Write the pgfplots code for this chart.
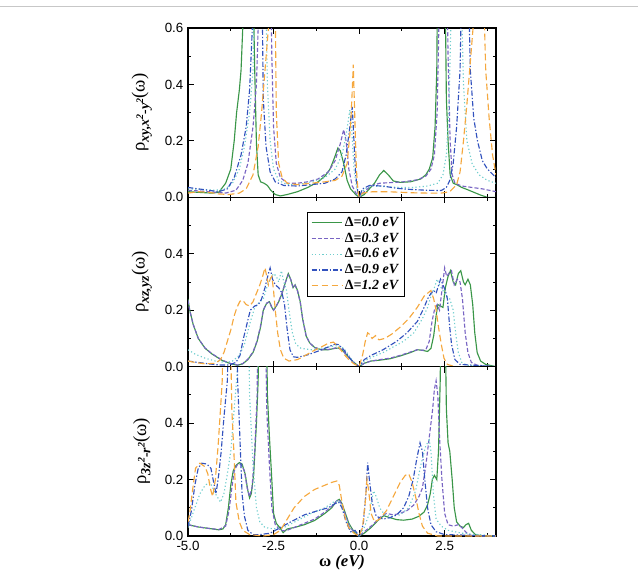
\documentclass[border=0pt]{standalone}
\usepackage{fontspec}
\setmainfont{Liberation Sans}
\newfontfamily\tms{Liberation Serif}
\usepackage{pgfplots}
\pgfplotsset{compat=1.18}

\definecolor{cD0}{RGB}{58,150,72}
\definecolor{cD3}{RGB}{120,100,195}
\definecolor{cD6}{RGB}{110,205,205}
\definecolor{cD9}{RGB}{50,82,190}
\definecolor{cD12}{RGB}{245,168,62}

\pgfplotsset{
  sD0/.style={cD0, solid, line width=0.85pt},
  sD3/.style={cD3, dash pattern=on 3pt off 1.6pt, line width=0.85pt},
  sD6/.style={cD6, dash pattern=on 0.9pt off 1.8pt, line width=0.85pt},
  sD9/.style={cD9, dash pattern=on 4pt off 1.5pt on 1pt off 1.5pt, line width=0.85pt},
  sD12/.style={cD12, dash pattern=on 5pt off 2.5pt, line width=0.85pt},
  panel/.style={
    scale only axis, width=231pt, height=127pt,
    xmin=-5, xmax=4, ymin=0, ymax=0.6,
    xtick={-5,-2.5,0,2.5}, minor xtick={-3.75,-1.25,1.25,3.75},
    minor ytick={0.1,0.3,0.5},
    tick align=inside, xtick pos=both, ytick pos=both,
    major tick length=4.5pt, minor tick length=2.5pt,
    every tick/.style={black, line width=0.75pt},
    axis line style={black, line width=0.9pt},
    /pgf/number format/assume math mode=true,
    xticklabel style={/pgf/number format/.cd, fixed, fixed zerofill, precision=1},
    yticklabel style={/pgf/number format/.cd, fixed, fixed zerofill, precision=1},
    ticklabel style={font=\fontsize{10}{12}\selectfont},
    ylabel style={at={(axis description cs:-0.15,0.5)}, anchor=center},
    legend image code/.code={\draw[#1] (0pt,0pt) -- (23pt,0pt);},
  },
}

\newcommand{\rholabel}[1]{{\tms\fontsize{14}{16}\selectfont ρ\raisebox{-0.5ex}{\fontsize{10.5}{12}\selectfont\bfseries\itshape #1}(ω)}}
\newcommand{\sq}{\raisebox{0.9ex}{\fontsize{7.5}{8}\selectfont\bfseries 2}}

\begin{document}
\begin{tikzpicture}
\useasboundingbox (0,0) rectangle (478.5pt,433.5pt);
\draw[black!22, line width=0.75pt] (0,428.25pt) -- (478.5pt,428.25pt);

% ---------- top panel: xy, x^2-y^2 ----------
\begin{axis}[panel, at={(141pt,285.5pt)}, anchor=south west,
  ytick={0,0.2,0.4,0.6}, xticklabels={},
  ylabel={\rholabel{xy,x\sq-y\sq}}]
\addplot[sD0] coordinates {(-5,0.02) (-4.6,0.017) (-4.3,0.015) (-4.1,0.018) (-3.9,0.05) (-3.75,0.1) (-3.65,0.2) (-3.58,0.3) (-3.5,0.38) (-3.45,0.45) (-3.4,0.6) (-3.35,0.9) (-3.12,0.9) (-3.05,0.45) (-3.0,0.19) (-2.95,0.08) (-2.88,0.055) (-2.78,0.05) (-2.68,0.042) (-2.58,0.025) (-2.45,0.01) (-2.3,0.005) (-2.1,0.01) (-1.8,0.02) (-1.5,0.035) (-1.2,0.055) (-1.0,0.075) (-0.85,0.1) (-0.72,0.14) (-0.62,0.175) (-0.55,0.165) (-0.45,0.12) (-0.35,0.06) (-0.25,0.03) (-0.1,0.01) (0,0.0) (0.15,0.01) (0.3,0.03) (0.45,0.05) (0.6,0.08) (0.72,0.095) (0.85,0.08) (1.0,0.058) (1.2,0.053) (1.5,0.055) (1.8,0.065) (1.95,0.08) (2.05,0.1) (2.15,0.14) (2.22,0.25) (2.27,0.45) (2.3,0.9) (2.5,0.9) (2.55,0.35) (2.6,0.2) (2.66,0.08) (2.75,0.05) (2.85,0.045) (3.0,0.035) (3.15,0.028) (3.35,0.018) (3.55,0.008) (3.75,0.0) (4,0.0)};
\addplot[sD3] coordinates {(-5,0.025) (-4.6,0.022) (-4.2,0.018) (-3.9,0.015) (-3.6,0.025) (-3.4,0.06) (-3.25,0.12) (-3.1,0.25) (-3.0,0.4) (-2.95,0.6) (-2.92,0.9) (-2.6,0.9) (-2.55,0.5) (-2.5,0.25) (-2.42,0.12) (-2.3,0.07) (-2.1,0.05) (-1.8,0.05) (-1.5,0.055) (-1.2,0.065) (-0.9,0.09) (-0.7,0.13) (-0.55,0.19) (-0.45,0.24) (-0.38,0.2) (-0.3,0.1) (-0.2,0.04) (-0.05,0.005) (0,0.0) (0.15,0.02) (0.35,0.04) (0.6,0.05) (0.9,0.052) (1.3,0.055) (1.7,0.062) (1.95,0.075) (2.1,0.1) (2.2,0.15) (2.28,0.3) (2.33,0.6) (2.36,0.9) (2.55,0.9) (2.6,0.5) (2.66,0.2) (2.72,0.08) (2.8,0.05) (3.0,0.04) (3.3,0.035) (3.6,0.03) (4.0,0.02)};
\addplot[sD6] coordinates {(-5,0.03) (-4.6,0.028) (-4.2,0.025) (-3.9,0.03) (-3.7,0.05) (-3.5,0.1) (-3.35,0.18) (-3.2,0.3) (-3.1,0.45) (-3.03,0.9) (-2.75,0.9) (-2.68,0.4) (-2.6,0.2) (-2.5,0.1) (-2.35,0.06) (-2.1,0.045) (-1.8,0.045) (-1.4,0.055) (-1.0,0.07) (-0.7,0.1) (-0.5,0.15) (-0.38,0.22) (-0.27,0.31) (-0.22,0.25) (-0.15,0.1) (-0.07,0.03) (0,0.0) (0.15,0.03) (0.4,0.04) (0.8,0.038) (1.2,0.035) (1.6,0.035) (2.0,0.04) (2.3,0.05) (2.45,0.08) (2.55,0.15) (2.62,0.3) (2.68,0.6) (2.7,0.9) (2.95,0.9) (3.05,0.4) (3.15,0.2) (3.3,0.12) (3.5,0.08) (3.75,0.06) (4.0,0.05)};
\addplot[sD9] coordinates {(-5,0.035) (-4.7,0.03) (-4.4,0.025) (-4.1,0.02) (-3.85,0.03) (-3.65,0.07) (-3.45,0.15) (-3.3,0.25) (-3.2,0.38) (-3.12,0.6) (-3.1,0.9) (-2.85,0.9) (-2.8,0.35) (-2.72,0.18) (-2.6,0.09) (-2.45,0.055) (-2.2,0.042) (-1.8,0.04) (-1.4,0.045) (-1.0,0.05) (-0.7,0.065) (-0.5,0.09) (-0.38,0.15) (-0.28,0.24) (-0.2,0.32) (-0.15,0.2) (-0.1,0.08) (-0.04,0.02) (0,0.0) (0.1,0.03) (0.3,0.042) (0.7,0.04) (1.1,0.032) (1.5,0.028) (2.0,0.025) (2.4,0.024) (2.55,0.035) (2.65,0.06) (2.75,0.12) (2.85,0.25) (2.95,0.45) (3.02,0.9) (3.17,0.9) (3.25,0.45) (3.35,0.28) (3.46,0.2) (3.6,0.13) (3.75,0.1) (4.0,0.07)};
\addplot[sD12] coordinates {(-5,0.015) (-4.7,0.02) (-4.4,0.018) (-4.1,0.012) (-3.8,0.01) (-3.5,0.015) (-3.3,0.03) (-3.1,0.08) (-2.95,0.18) (-2.85,0.3) (-2.75,0.45) (-2.65,0.6) (-2.6,0.9) (-2.47,0.9) (-2.42,0.3) (-2.35,0.12) (-2.25,0.07) (-2.1,0.05) (-1.8,0.045) (-1.4,0.05) (-1.0,0.055) (-0.7,0.06) (-0.5,0.075) (-0.35,0.12) (-0.25,0.25) (-0.2,0.38) (-0.17,0.47) (-0.13,0.3) (-0.08,0.1) (-0.03,0.02) (0,0.0) (0.1,0.015) (0.4,0.02) (0.8,0.02) (1.2,0.018) (1.6,0.016) (2.0,0.015) (2.4,0.015) (2.65,0.02) (2.85,0.045) (2.95,0.09) (3.05,0.2) (3.15,0.33) (3.25,0.48) (3.33,0.6) (3.36,0.9) (3.6,0.9) (3.7,0.45) (3.8,0.28) (3.9,0.15) (4.0,0.08)};
\end{axis}

% ---------- middle panel: xz, yz ----------
\begin{axis}[panel, at={(141pt,158.5pt)}, anchor=south west,
  ytick={0,0.2,0.4}, xticklabels={},
  ylabel={\rholabel{xz,yz}},
  legend cell align=left,
  legend style={at={(rel axis cs:0.385,0.915)}, anchor=north west,
    draw=black, line width=0.75pt, fill=white, inner xsep=3pt, inner ysep=2pt,
    row sep=0pt,
    nodes={inner sep=1.5pt, text height=7.2pt, text depth=1.6pt},
    font=\tms\fontsize{10.5}{12}\selectfont\bfseries\itshape}]
\addplot[sD0] coordinates {(-5,0.24) (-4.95,0.2) (-4.85,0.15) (-4.7,0.1) (-4.5,0.065) (-4.3,0.045) (-4.0,0.022) (-3.75,0.01) (-3.55,0.005) (-3.4,0.01) (-3.25,0.025) (-3.1,0.05) (-2.98,0.09) (-2.88,0.14) (-2.8,0.2) (-2.7,0.225) (-2.62,0.23) (-2.55,0.21) (-2.5,0.2) (-2.42,0.215) (-2.35,0.23) (-2.25,0.26) (-2.15,0.3) (-2.07,0.33) (-2.0,0.31) (-1.93,0.28) (-1.87,0.29) (-1.8,0.27) (-1.72,0.23) (-1.65,0.17) (-1.55,0.11) (-1.45,0.085) (-1.3,0.068) (-1.1,0.06) (-0.9,0.06) (-0.7,0.065) (-0.6,0.066) (-0.5,0.06) (-0.35,0.04) (-0.2,0.02) (0,0.0) (0.15,0.012) (0.35,0.02) (0.6,0.023) (0.9,0.028) (1.2,0.038) (1.5,0.05) (1.7,0.06) (1.85,0.058) (2.0,0.054) (2.1,0.065) (2.18,0.11) (2.25,0.18) (2.3,0.22) (2.38,0.215) (2.45,0.21) (2.52,0.28) (2.6,0.32) (2.67,0.34) (2.75,0.3) (2.82,0.29) (2.9,0.33) (2.97,0.34) (3.05,0.3) (3.1,0.29) (3.18,0.31) (3.25,0.29) (3.32,0.22) (3.38,0.12) (3.45,0.05) (3.55,0.02) (3.7,0.008) (4.0,0.0)};
\addlegendentry{\textup{Δ}=0.0 eV}
\addplot[sD3] coordinates {(-5,0.235) (-4.95,0.2) (-4.85,0.15) (-4.7,0.1) (-4.5,0.066) (-4.3,0.046) (-4.0,0.023) (-3.75,0.011) (-3.55,0.006) (-3.4,0.011) (-3.25,0.027) (-3.1,0.052) (-2.98,0.092) (-2.88,0.145) (-2.8,0.2) (-2.7,0.225) (-2.62,0.23) (-2.55,0.21) (-2.5,0.2) (-2.42,0.215) (-2.35,0.232) (-2.25,0.262) (-2.15,0.3) (-2.07,0.325) (-2.0,0.31) (-1.93,0.28) (-1.87,0.288) (-1.8,0.268) (-1.72,0.228) (-1.65,0.17) (-1.55,0.11) (-1.45,0.085) (-1.3,0.068) (-1.1,0.06) (-0.9,0.061) (-0.7,0.066) (-0.6,0.066) (-0.5,0.06) (-0.35,0.04) (-0.2,0.02) (0,0.0) (0.15,0.012) (0.35,0.02) (0.6,0.025) (0.9,0.03) (1.2,0.04) (1.5,0.052) (1.7,0.06) (1.85,0.058) (1.95,0.06) (2.05,0.09) (2.13,0.16) (2.2,0.2) (2.28,0.22) (2.35,0.2) (2.42,0.27) (2.5,0.35) (2.56,0.32) (2.62,0.33) (2.7,0.34) (2.78,0.29) (2.87,0.31) (2.95,0.3) (3.02,0.24) (3.1,0.12) (3.18,0.05) (3.28,0.015) (3.45,0.005) (4,0)};
\addlegendentry{\textup{Δ}=0.3 eV}
\addplot[sD6] coordinates {(-5,0.06) (-4.8,0.045) (-4.5,0.03) (-4.2,0.02) (-3.9,0.015) (-3.7,0.02) (-3.5,0.04) (-3.35,0.08) (-3.2,0.15) (-3.05,0.21) (-2.9,0.23) (-2.8,0.24) (-2.7,0.28) (-2.6,0.31) (-2.5,0.33) (-2.42,0.32) (-2.35,0.3) (-2.27,0.34) (-2.2,0.3) (-2.12,0.27) (-2.05,0.2) (-1.95,0.12) (-1.85,0.08) (-1.7,0.065) (-1.4,0.06) (-1.1,0.065) (-0.8,0.072) (-0.6,0.075) (-0.45,0.065) (-0.3,0.04) (-0.15,0.015) (0,0.0) (0.15,0.02) (0.4,0.035) (0.7,0.05) (1.0,0.07) (1.3,0.09) (1.6,0.12) (1.85,0.17) (2.0,0.21) (2.1,0.25) (2.2,0.28) (2.28,0.31) (2.35,0.29) (2.45,0.27) (2.55,0.25) (2.65,0.24) (2.75,0.2) (2.82,0.12) (2.9,0.05) (3.0,0.015) (3.15,0.005) (4,0)};
\addlegendentry{\textup{Δ}=0.6 eV}
\addplot[sD9] coordinates {(-5,0.02) (-4.7,0.015) (-4.4,0.01) (-4.1,0.006) (-3.8,0.006) (-3.6,0.015) (-3.48,0.04) (-3.38,0.1) (-3.28,0.15) (-3.18,0.2) (-3.05,0.215) (-2.94,0.22) (-2.85,0.24) (-2.75,0.28) (-2.65,0.33) (-2.6,0.35) (-2.53,0.31) (-2.45,0.29) (-2.35,0.28) (-2.25,0.26) (-2.18,0.22) (-2.1,0.13) (-2.02,0.06) (-1.92,0.035) (-1.8,0.033) (-1.5,0.042) (-1.2,0.055) (-0.9,0.07) (-0.7,0.08) (-0.6,0.078) (-0.45,0.06) (-0.3,0.035) (-0.15,0.012) (0,0.0) (0.15,0.025) (0.35,0.04) (0.7,0.06) (1.1,0.09) (1.4,0.12) (1.7,0.16) (1.9,0.21) (2.0,0.24) (2.1,0.26) (2.18,0.27) (2.25,0.26) (2.3,0.28) (2.38,0.31) (2.45,0.29) (2.52,0.27) (2.58,0.24) (2.64,0.15) (2.7,0.08) (2.8,0.025) (2.95,0.008) (4,0)};
\addlegendentry{\textup{Δ}=0.9 eV}
\addplot[sD12] coordinates {(-5,0.02) (-4.8,0.015) (-4.5,0.01) (-4.2,0.012) (-4.05,0.025) (-3.95,0.05) (-3.85,0.09) (-3.75,0.13) (-3.65,0.18) (-3.57,0.21) (-3.48,0.232) (-3.4,0.235) (-3.3,0.22) (-3.2,0.215) (-3.1,0.23) (-3.0,0.26) (-2.9,0.29) (-2.82,0.32) (-2.75,0.35) (-2.7,0.32) (-2.65,0.29) (-2.6,0.31) (-2.55,0.32) (-2.5,0.27) (-2.45,0.2) (-2.38,0.12) (-2.3,0.06) (-2.2,0.03) (-2.05,0.02) (-1.8,0.025) (-1.6,0.038) (-1.35,0.055) (-1.1,0.07) (-0.9,0.083) (-0.75,0.087) (-0.6,0.07) (-0.45,0.045) (-0.3,0.025) (-0.15,0.01) (0,0.0) (0.1,0.04) (0.18,0.09) (0.25,0.12) (0.3,0.115) (0.38,0.1) (0.48,0.11) (0.58,0.095) (0.75,0.1) (0.95,0.115) (1.2,0.14) (1.45,0.17) (1.7,0.21) (1.9,0.25) (2.0,0.26) (2.1,0.27) (2.18,0.24) (2.25,0.2) (2.32,0.14) (2.4,0.08) (2.48,0.03) (2.58,0.008) (2.8,0.0) (4,0)};
\addlegendentry{\textup{Δ}=1.2 eV}
\end{axis}

% ---------- bottom panel: 3z^2-r^2 ----------
\begin{axis}[panel, at={(141pt,31.5pt)}, anchor=south west,
  ytick={0,0.2,0.4},
  ylabel={\rholabel{3z\sq-r\sq}},
  xlabel={\tms\fontsize{12.5}{14}\selectfont\bfseries ω \itshape(eV)},
  xlabel style={at={(axis description cs:0.5,0)}, anchor=center, yshift=-20pt}]
\addplot[sD0] coordinates {(-5,0.04) (-4.7,0.032) (-4.4,0.027) (-4.1,0.022) (-3.98,0.025) (-3.9,0.04) (-3.82,0.1) (-3.75,0.18) (-3.68,0.23) (-3.6,0.25) (-3.5,0.26) (-3.42,0.255) (-3.33,0.22) (-3.25,0.16) (-3.2,0.135) (-3.15,0.15) (-3.08,0.22) (-3.0,0.4) (-2.95,0.55) (-2.92,0.9) (-2.72,0.9) (-2.68,0.5) (-2.62,0.35) (-2.56,0.22) (-2.5,0.08) (-2.42,0.045) (-2.32,0.03) (-2.22,0.012) (-2.1,0.025) (-1.9,0.03) (-1.6,0.04) (-1.3,0.055) (-1.0,0.08) (-0.8,0.1) (-0.65,0.125) (-0.58,0.13) (-0.5,0.115) (-0.4,0.08) (-0.3,0.045) (-0.15,0.015) (0,0.0) (0.15,0.01) (0.35,0.03) (0.55,0.055) (0.72,0.072) (0.9,0.065) (1.1,0.058) (1.3,0.056) (1.55,0.06) (1.75,0.07) (1.9,0.085) (2.0,0.11) (2.08,0.15) (2.14,0.2) (2.2,0.215) (2.27,0.2) (2.32,0.3) (2.37,0.55) (2.4,0.9) (2.5,0.9) (2.55,0.45) (2.6,0.33) (2.65,0.3) (2.72,0.2) (2.78,0.1) (2.85,0.05) (2.95,0.035) (3.05,0.03) (3.12,0.04) (3.2,0.045) (3.28,0.02) (3.4,0.005) (3.6,0.0) (4,0.0)};
\addplot[sD3] coordinates {(-5,0.04) (-4.7,0.032) (-4.4,0.027) (-4.1,0.023) (-3.9,0.035) (-3.8,0.09) (-3.72,0.17) (-3.65,0.23) (-3.55,0.255) (-3.45,0.255) (-3.35,0.23) (-3.27,0.17) (-3.2,0.14) (-3.13,0.17) (-3.05,0.3) (-2.98,0.5) (-2.95,0.9) (-2.75,0.9) (-2.7,0.45) (-2.62,0.25) (-2.55,0.1) (-2.45,0.04) (-2.3,0.02) (-2.15,0.018) (-1.9,0.03) (-1.6,0.045) (-1.3,0.06) (-1.0,0.085) (-0.8,0.105) (-0.65,0.125) (-0.58,0.128) (-0.5,0.11) (-0.4,0.075) (-0.3,0.04) (-0.15,0.012) (0,0.0) (0.2,0.02) (0.4,0.04) (0.6,0.065) (0.8,0.08) (1.0,0.075) (1.2,0.08) (1.4,0.09) (1.6,0.11) (1.75,0.14) (1.85,0.17) (1.95,0.25) (2.05,0.35) (2.15,0.45) (2.2,0.52) (2.25,0.55) (2.3,0.5) (2.35,0.35) (2.42,0.2) (2.5,0.08) (2.6,0.04) (2.75,0.035) (2.9,0.04) (3.0,0.03) (3.15,0.01) (3.3,0.0) (4,0)};
\addplot[sD6] coordinates {(-5,0.03) (-4.8,0.1) (-4.65,0.15) (-4.5,0.18) (-4.35,0.19) (-4.2,0.15) (-4.05,0.12) (-3.95,0.15) (-3.85,0.22) (-3.75,0.3) (-3.65,0.45) (-3.55,0.6) (-3.5,0.9) (-3.25,0.9) (-3.2,0.5) (-3.1,0.25) (-3.0,0.1) (-2.9,0.05) (-2.75,0.03) (-2.5,0.025) (-2.2,0.03) (-1.8,0.055) (-1.4,0.08) (-1.0,0.1) (-0.75,0.12) (-0.6,0.125) (-0.5,0.1) (-0.35,0.05) (-0.2,0.015) (0,0.0) (0.15,0.03) (0.3,0.08) (0.42,0.16) (0.5,0.14) (0.6,0.1) (0.75,0.075) (0.95,0.07) (1.2,0.075) (1.45,0.1) (1.65,0.16) (1.8,0.25) (1.95,0.32) (2.05,0.34) (2.1,0.3) (2.17,0.15) (2.25,0.06) (2.4,0.035) (2.6,0.02) (3.0,0.01) (4,0)};
\addplot[sD9] coordinates {(-5,0.035) (-4.9,0.09) (-4.8,0.18) (-4.7,0.24) (-4.6,0.258) (-4.45,0.255) (-4.33,0.24) (-4.25,0.19) (-4.18,0.15) (-4.1,0.22) (-4.03,0.3) (-3.95,0.42) (-3.85,0.55) (-3.78,0.9) (-3.6,0.9) (-3.55,0.55) (-3.5,0.4) (-3.42,0.15) (-3.35,0.07) (-3.25,0.02) (-3.1,0.005) (-2.9,0.005) (-2.6,0.01) (-2.3,0.03) (-2.0,0.05) (-1.6,0.075) (-1.2,0.09) (-0.9,0.1) (-0.7,0.115) (-0.6,0.12) (-0.5,0.1) (-0.38,0.05) (-0.25,0.015) (-0.12,0.02) (0,0.0) (0.12,0.04) (0.2,0.15) (0.25,0.26) (0.3,0.2) (0.38,0.12) (0.5,0.07) (0.7,0.06) (0.9,0.065) (1.1,0.075) (1.3,0.1) (1.45,0.14) (1.58,0.2) (1.68,0.27) (1.78,0.33) (1.85,0.3) (1.92,0.2) (2.0,0.1) (2.1,0.04) (2.25,0.015) (2.5,0.005) (4,0)};
\addplot[sD12] coordinates {(-5,0.05) (-4.95,0.08) (-4.88,0.15) (-4.78,0.24) (-4.65,0.258) (-4.5,0.245) (-4.42,0.22) (-4.35,0.17) (-4.28,0.14) (-4.2,0.2) (-4.12,0.32) (-4.05,0.45) (-4.0,0.55) (-3.95,0.9) (-3.78,0.9) (-3.72,0.45) (-3.66,0.3) (-3.6,0.12) (-3.5,0.05) (-3.4,0.02) (-3.2,0.005) (-2.8,0.0) (-2.5,0.005) (-2.3,0.02) (-2.1,0.06) (-1.9,0.1) (-1.6,0.14) (-1.3,0.165) (-1.0,0.18) (-0.8,0.19) (-0.65,0.195) (-0.58,0.18) (-0.5,0.12) (-0.4,0.06) (-0.3,0.03) (-0.15,0.01) (0,0.0) (0.1,0.03) (0.18,0.12) (0.23,0.2) (0.28,0.16) (0.35,0.08) (0.45,0.05) (0.6,0.06) (0.8,0.09) (1.0,0.14) (1.2,0.19) (1.35,0.215) (1.45,0.22) (1.55,0.19) (1.65,0.14) (1.75,0.08) (1.85,0.035) (2.0,0.01) (2.3,0.0) (4,0)};
\end{axis}
\end{tikzpicture}
\end{document}
